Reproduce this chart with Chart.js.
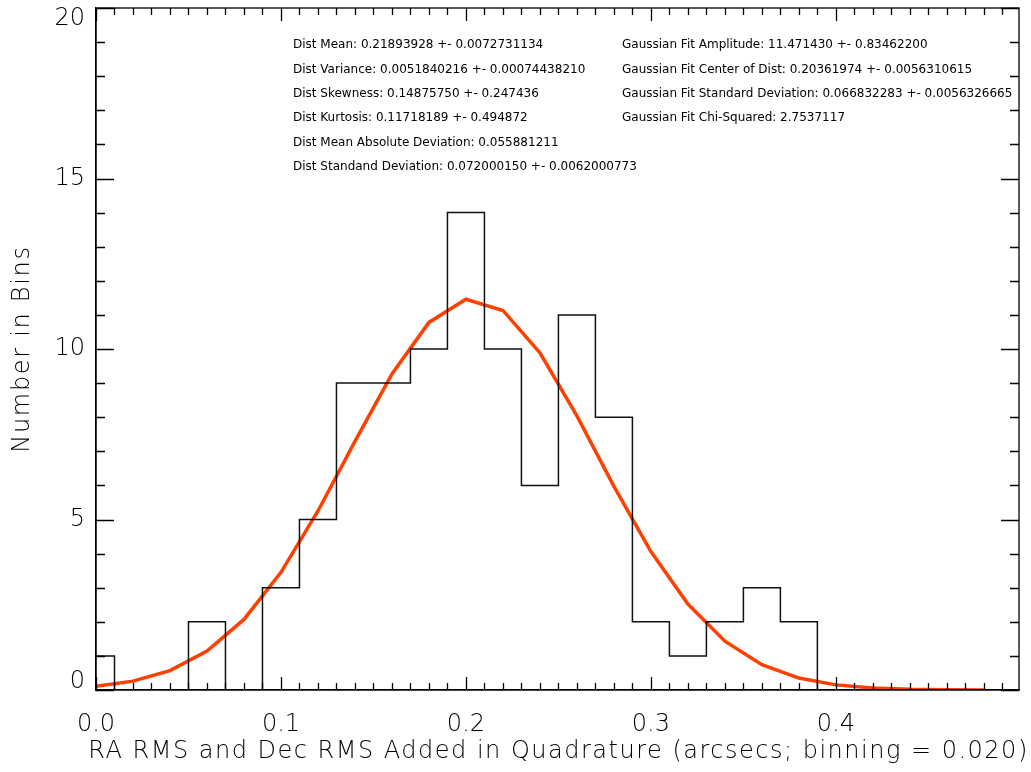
<!DOCTYPE html>
<html><head><meta charset="utf-8">
<script src="https://cdn.jsdelivr.net/npm/chart.js@4.4.1/dist/chart.umd.min.js"></script>
<style>html,body{margin:0;padding:0;background:#fff}#wrap{width:1031px;height:772px;position:relative}</style>
</head><body><div id="wrap"><canvas id="c"></canvas></div>
<script>
// ---- data ----
const binCenters = [0.00,0.02,0.04,0.06,0.08,0.10,0.12,0.14,0.16,0.18,0.20,0.22,0.24,0.26,0.28,0.30,0.32,0.34,0.36,0.38,0.40,0.42,0.44,0.46,0.48];
const binCounts  = [1,0,0,2,0,3,5,9,9,10,14,10,6,11,8,2,1,2,3,2,0,0,0,0,0];
const fitX = [0.00,0.02,0.04,0.06,0.08,0.10,0.12,0.14,0.16,0.18,0.20,0.22,0.24,0.26,0.28,0.30,0.32,0.34,0.36,0.38,0.40,0.42,0.44,0.46,0.48];
const fitY = [0.11,0.26,0.57,1.14,2.07,3.45,5.25,7.29,9.27,10.78,11.46,11.13,9.89,8.04,5.97,4.06,2.52,1.43,0.74,0.35,0.15,0.06,0.02,0.01,0.00];
const statsLeft = [
  "Dist Mean: 0.21893928 +- 0.0072731134",
  "Dist Variance: 0.0051840216 +- 0.00074438210",
  "Dist Skewness: 0.14875750 +- 0.247436",
  "Dist Kurtosis: 0.11718189 +- 0.494872",
  "Dist Mean Absolute Deviation: 0.055881211",
  "Dist Standand Deviation: 0.072000150 +- 0.0062000773"
];
const statsRight = [
  "Gaussian Fit Amplitude: 11.471430 +- 0.83462200",
  "Gaussian Fit Center of Dist: 0.20361974 +- 0.0056310615",
  "Gaussian Fit Standard Deviation: 0.066832283 +- 0.0056326665",
  "Gaussian Fit Chi-Squared: 2.7537117"
];
const xTitle = "RA RMS and Dec RMS Added in Quadrature (arcsecs; binning = 0.020)";
const yTitle = "Number in Bins";
const xRange = [0, 0.499];
const yRange = [0, 20];

const FONT = "'DejaVu Sans', sans-serif";
const LABEL_WEIGHT = 300;

const framePlugin = {
  id: 'frame',
  afterDraw(chart) {
    const {ctx, chartArea: a, scales: {x, y}} = chart;
    ctx.save();
    ctx.strokeStyle = '#000';
    ctx.lineWidth = 1.3;
    ctx.strokeRect(a.left, a.top, a.right - a.left, a.bottom - a.top);
    ctx.beginPath();
    for (let i = 0; i <= 49; i++) {
      const px = Math.round(x.getPixelForValue(i / 100)) + 0.5;
      const len = (i % 10 === 0) ? 13 : 7;
      ctx.moveTo(px, a.bottom); ctx.lineTo(px, a.bottom - len);
      ctx.moveTo(px, a.top); ctx.lineTo(px, a.top + len);
    }
    for (let j = 0; j <= 20; j++) {
      const py = Math.round(y.getPixelForValue(j)) + 0.5;
      const len = (j % 5 === 0) ? 18 : 9;
      ctx.moveTo(a.left, py); ctx.lineTo(a.left + len, py);
      ctx.moveTo(a.right, py); ctx.lineTo(a.right - len, py);
    }
    ctx.stroke();

    ctx.fillStyle = '#000';
    ctx.font = LABEL_WEIGHT + " 24px " + FONT;
    ctx.textAlign = 'right';
    ctx.textBaseline = 'middle';
    y.ticks.forEach(t => {
      let py = y.getPixelForValue(t.value);
      py = Math.min(Math.max(py, a.top + 11), a.bottom - 8);
      ctx.fillText(String(t.value), 85, py);
    });

    ctx.textAlign = 'center';
    ctx.letterSpacing = '1.5px';
    ctx.fillText(xTitle, (a.left + a.right) / 2 + 1, 752);
    ctx.save();
    ctx.translate(23, (a.top + a.bottom) / 2);
    ctx.rotate(-Math.PI / 2);
    ctx.letterSpacing = '1.7px';
    ctx.fillText(yTitle, 0, 0);
    ctx.restore();
    ctx.letterSpacing = '0px';

    ctx.font = "12px " + FONT;
    ctx.textAlign = 'left';
    statsLeft.forEach((t, i) => ctx.fillText(t, 293, 45 + i * 24.4));
    statsRight.forEach((t, i) => ctx.fillText(t, 622, 45 + i * 24.4));
    ctx.restore();
  }
};

new Chart(document.getElementById('c'), {
  type: 'line',
  data: {
    datasets: [
      {
        label: 'Histogram',
        data: binCenters.map((v, i) => ({x: v, y: binCounts[i]})),
        stepped: 'middle',
        borderColor: '#111',
        borderWidth: 1.5,
        pointRadius: 0,
        fill: false
      },
      {
        label: 'Gaussian fit',
        data: fitX.map((v, i) => ({x: v, y: fitY[i]})),
        borderColor: 'rgb(255,64,0)',
        borderWidth: 3.5,
        pointRadius: 0,
        tension: 0,
        fill: false
      }
    ]
  },
  options: {
    responsive: true,
    maintainAspectRatio: false,
    animation: false,
    devicePixelRatio: 1,
    layout: {padding: {left: 0, top: 8, right: 12, bottom: 0}},
    plugins: {legend: {display: false}, tooltip: {enabled: false}},
    scales: {
      x: {
        type: 'linear',
        min: xRange[0], max: xRange[1],
        grid: {display: false, drawTicks: false},
        border: {display: true, color: '#000', width: 1.3},
        ticks: {
          stepSize: 0.1, includeBounds: false, padding: 20,
          color: '#000', font: {family: FONT, size: 24, weight: LABEL_WEIGHT},
          maxRotation: 0,
          callback: v => v.toFixed(1)
        },
        title: {display: false, text: xTitle},
        afterFit(s) { s.height = 82; s.paddingLeft = 0; s.paddingRight = 0; }
      },
      y: {
        type: 'linear',
        min: yRange[0], max: yRange[1],
        grid: {display: false, drawTicks: false},
        border: {display: true, color: '#000', width: 1.3},
        ticks: {stepSize: 5, display: false},
        title: {display: false, text: yTitle},
        afterFit(s) { s.width = 96; s.paddingTop = 0; s.paddingBottom = 0; }
      }
    }
  },
  plugins: [framePlugin]
});
</script>
</body></html>
